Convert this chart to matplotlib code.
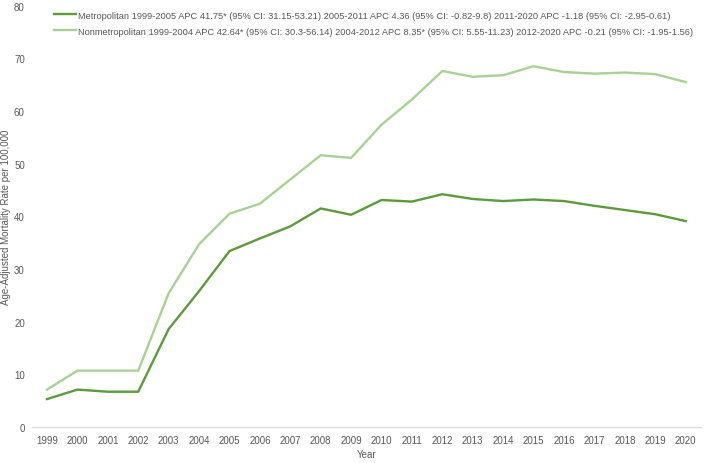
import numpy as np
import matplotlib
matplotlib.use('Agg')
from matplotlib import pyplot as plt

plt.rcParams['font.family'] = ['Liberation Sans', 'DejaVu Sans']

years = list(range(1999, 2021))
metro = [5.3, 7.1, 6.7, 6.7, 18.6, 25.8, 33.4, 35.8, 38.1, 41.5, 40.3,
         43.1, 42.8, 44.2, 43.3, 42.9, 43.2, 42.9, 42.0, 41.2, 40.4, 39.1]
nonmetro = [7.1, 10.7, 10.7, 10.7, 25.4, 34.7, 40.5, 42.4, 47.0, 51.6, 51.1,
            57.4, 62.2, 67.6, 66.5, 66.8, 68.5, 67.4, 67.1, 67.3, 67.0, 65.5]
metro_label = ('Metropolitan 1999-2005 APC 41.75* (95% CI: 31.15-53.21) '
               '2005-2011 APC 4.36 (95% CI: -0.82-9.8) '
               '2011-2020 APC -1.18 (95% CI: -2.95-0.61)')
nonmetro_label = ('Nonmetropolitan 1999-2004 APC 42.64* (95% CI: 30.3-56.14) '
                  '2004-2012 APC 8.35* (95% CI: 5.55-11.23) '
                  '2012-2020 APC -0.21 (95% CI: -1.95-1.56)')
yticks = [0, 10, 20, 30, 40, 50, 60, 70, 80]

text_col = '#595959'

fig = plt.figure(figsize=(7.08, 4.64), dpi=100)
ax = fig.add_axes([0.0449, 0.0776, 0.945, 0.908])

ax.plot(years, metro, color='#5B9B3C', lw=1.7, label=metro_label)
ax.plot(years, nonmetro, color='#A8D293', lw=1.7, label=nonmetro_label)

ax.set_xlim(1998.5, 2020.5)
ax.set_ylim(0, 80)
ax.set_xticks(years)
ax.set_xticklabels([str(y) for y in years])
ax.set_yticks(yticks)
ax.tick_params(length=0, labelsize=7, colors=text_col, pad=6)
ax.tick_params(axis='y', pad=5)

for s in ['top', 'right', 'left']:
    ax.spines[s].set_visible(False)
ax.spines['bottom'].set_color('#d9d9d9')
ax.spines['bottom'].set_linewidth(0.8)

ax.set_xlabel('Year', fontsize=7, color=text_col, labelpad=3)
ax.set_ylabel('Age-Adjusted Mortality Rate per 100,000', fontsize=7,
              color=text_col)
ax.yaxis.set_label_coords(-0.031, 0.5)

leg = fig.legend(loc='upper left', bbox_to_anchor=(0.064, 0.993), frameon=False,
                 fontsize=6.7, handlelength=2.35, handletextpad=0.3,
                 labelspacing=0.75, labelcolor=text_col)

fig.savefig('out.png', dpi=100)
